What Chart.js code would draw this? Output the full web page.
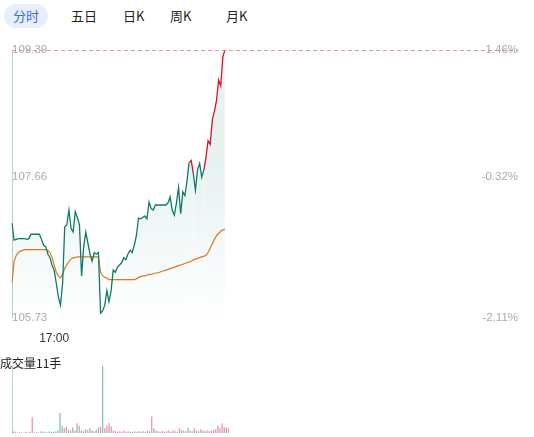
<!DOCTYPE html>
<html><head><meta charset="utf-8">
<script src="https://cdn.jsdelivr.net/npm/chart.js@4"></script>
<style>
body{margin:0;width:534px;height:437px;background:#fff;font-family:"Noto Sans CJK SC","Noto Sans",sans-serif;overflow:hidden;position:relative}
.tab{position:absolute;top:4px;height:24px;line-height:24px;font-size:13px;color:#222}
.tab.on{background:#e8eefb;color:#3b6fd8;border-radius:12px;padding:0 9px;left:4px}
#pc{position:absolute;left:0;top:40px}
#vc{position:absolute;left:0;top:366px}
#vl{position:absolute;left:0;top:354px;font-size:12px;color:#222}
</style></head><body>
<div class="tab on">分时</div>
<div class="tab" style="left:71px">五日</div>
<div class="tab" style="left:123px">日K</div>
<div class="tab" style="left:170px">周K</div>
<div class="tab" style="left:226px">月K</div>
<canvas id="pc" width="534" height="318"></canvas>
<div id="vl">成交量11手</div>
<canvas id="vc" width="534" height="71"></canvas>
<script>
// --- ข้อมูล ---
const SLOTS = 241;
const TIME_LABEL_INDEX = 20;
const TIME_LABEL = '17:00';
const PRICE_TICKS = [105.73, 107.66, 109.39];
const PCT_TICKS = ['-2.11%', '-0.32%', '1.46%'];
const UP_LEVEL = 107.86;

const prices = [107.02,106.79,106.80,106.81,106.81,106.81,106.81,106.80,106.81,106.87,
106.87,106.87,106.87,106.87,106.80,106.72,106.70,106.60,106.55,106.45,
106.38,106.20,106.01,105.90,106.20,106.97,107.00,107.20,106.95,106.90,
107.18,107.10,107.00,106.30,106.70,106.90,106.75,106.60,106.50,106.62,
106.60,106.62,105.79,105.82,105.90,106.10,105.95,106.10,106.38,106.35,
106.42,106.45,106.48,106.55,106.52,106.60,106.65,106.62,106.72,106.85,
107.09,107.08,107.10,107.12,107.08,107.31,107.22,107.20,107.27,107.27,
107.27,107.27,107.27,107.27,107.30,107.38,107.20,107.13,107.30,107.51,
107.15,107.45,107.40,107.60,107.85,107.88,107.70,107.47,107.75,107.84,
107.65,107.75,107.92,108.15,108.10,108.43,108.55,108.70,108.98,108.90,
109.30,109.39];

const avgPrices = [106.21,106.50,106.58,106.62,106.64,106.65,106.66,106.66,106.66,106.66,
106.66,106.66,106.66,106.66,106.66,106.66,106.66,106.65,106.62,106.55,
106.45,106.35,106.30,106.27,106.32,106.40,106.45,106.50,106.53,106.55,
106.55,106.56,106.56,106.56,106.56,106.56,106.56,106.56,106.56,106.56,
106.56,106.56,106.35,106.30,106.28,106.27,106.25,106.25,106.25,106.25,
106.25,106.25,106.25,106.25,106.25,106.25,106.25,106.25,106.25,106.26,
106.28,106.29,106.30,106.30,106.31,106.32,106.32,106.33,106.34,106.34,
106.35,106.36,106.37,106.38,106.39,106.40,106.41,106.42,106.43,106.44,
106.45,106.46,106.47,106.48,106.49,106.50,106.52,106.53,106.54,106.55,
106.56,106.57,106.58,106.62,106.68,106.74,106.80,106.85,106.88,106.91,
106.93,106.94];

const volumes = [0.3,0.2,0.1,0.2,0.1,0.1,0.2,0.1,0.2,2.6,
0.1,0.2,0.1,0.3,0.2,0.2,0.1,0.3,0.2,0.2,
0.3,0.4,3.3,1.2,0.8,1.0,0.5,0.4,0.9,0.4,
1.6,1.2,0.4,0.3,0.6,0.5,0.8,0.4,0.3,0.5,
0.9,1.0,11,0.8,1.2,1.6,1.1,0.4,0.3,0.2,
0.3,0.2,0.4,0.2,0.3,0.2,0.2,0.3,0.2,0.3,
0.2,0.3,0.2,0.4,0.3,2.7,0.8,0.4,0.3,0.2,
0.3,0.2,0.3,0.4,0.2,0.5,0.3,0.2,0.8,0.5,
0.4,0.3,0.9,0.4,0.3,0.8,0.4,0.3,0.6,0.4,
0.3,0.4,0.3,0.4,0.5,0.6,1.2,0.8,1.6,1.0,
0.9,0.8];

const labels = Array.from({length: SLOTS}, (_, i) => i === TIME_LABEL_INDEX ? TIME_LABEL : '');

// --- plugin เส้นประราคาสูงสุด ---
const topLine = {
  id: 'topLine',
  afterDatasetsDraw(chart) {
    const {ctx, chartArea, scales} = chart;
    const y = scales.y.getPixelForValue(PRICE_TICKS[2]);
    ctx.save();
    ctx.strokeStyle = 'rgba(235,120,120,0.8)';
    ctx.setLineDash([4, 3]);
    ctx.lineWidth = 1;
    ctx.beginPath();
    ctx.moveTo(chartArea.left, y + 0.5);
    ctx.lineTo(chartArea.right, y + 0.5);
    ctx.stroke();
    ctx.restore();
  }
};

const pctx = document.getElementById('pc').getContext('2d');
const grad = pctx.createLinearGradient(0, 130, 0, 280);
grad.addColorStop(0, 'rgba(0,110,100,0.09)');
grad.addColorStop(1, 'rgba(0,110,100,0)');

new Chart(pctx, {
  type: 'line',
  data: {
    labels: labels,
    datasets: [{
      data: prices,
      borderColor: '#0f7a66',
      borderWidth: 1.3,
      pointRadius: 0,
      tension: 0,
      fill: 'start',
      backgroundColor: grad,
      segment: {
        borderColor: c => (c.p0.parsed.y >= UP_LEVEL || c.p1.parsed.y >= UP_LEVEL) ? '#d0142c' : '#0f7a66'
      }
    }, {
      data: avgPrices,
      borderColor: '#e07a1c',
      borderWidth: 1.2,
      pointRadius: 0,
      fill: false
    }]
  },
  options: {
    responsive: false,
    animation: false,
    layout: {padding: {left: 4, right: 8, top: 10, bottom: 6}},
    plugins: {legend: {display: false}, tooltip: {enabled: false}},
    scales: {
      x: {
        grid: {display: false},
        border: {display: false},
        ticks: {autoSkip: false, maxRotation: 0, color: '#333', font: {size: 12}, padding: 6}
      },
      y: {
        min: PRICE_TICKS[0], max: PRICE_TICKS[2],
        afterBuildTicks: s => { s.ticks = PRICE_TICKS.map(v => ({value: v})); },
        ticks: {mirror: true, padding: 0, color: '#aaa', font: {size: 11.5},
          callback: v => v.toFixed(2)},
        grid: {display: false},
        border: {display: true, color: '#b8d3d0'}
      },
      y1: {
        position: 'right',
        min: PRICE_TICKS[0], max: PRICE_TICKS[2],
        afterBuildTicks: s => { s.ticks = PRICE_TICKS.map(v => ({value: v})); },
        ticks: {mirror: true, padding: 0, color: '#aaa', font: {size: 11.5},
          callback: (v, i) => PCT_TICKS[i]},
        grid: {display: false},
        border: {display: false}
      }
    }
  },
  plugins: [topLine]
});

const volColors = volumes.map((v, i) =>
  i > 0 && prices[i] >= prices[i - 1] ? 'rgba(220,60,90,0.55)' : 'rgba(20,130,110,0.5)');

new Chart(document.getElementById('vc'), {
  type: 'bar',
  data: {
    labels: labels,
    datasets: [{data: volumes, backgroundColor: volColors, barPercentage: 0.6, categoryPercentage: 1}]
  },
  options: {
    responsive: false,
    animation: false,
    layout: {padding: {left: 4, right: 8, top: 0, bottom: 4}},
    plugins: {legend: {display: false}, tooltip: {enabled: false}},
    scales: {
      x: {display: false},
      y: {min: 0, max: 11, display: true, ticks: {display: false}, grid: {display: false},
        border: {display: true, color: '#b8d3d0'}}
    }
  }
});
</script>
</body></html>
